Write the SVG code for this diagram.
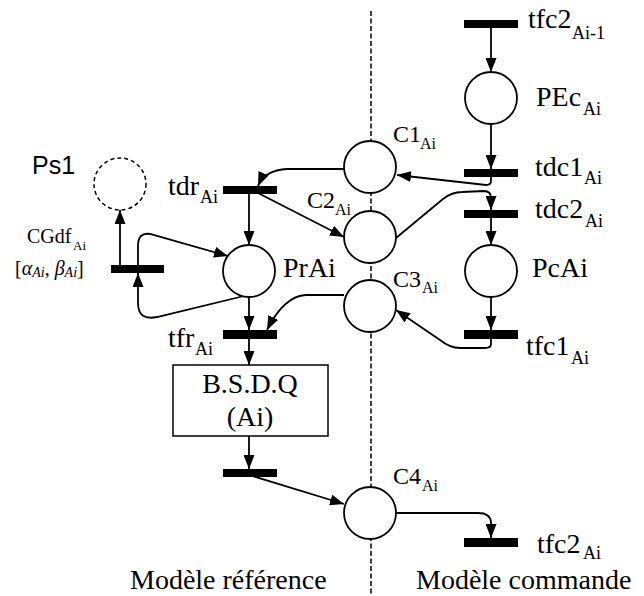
<svg xmlns="http://www.w3.org/2000/svg" width="644" height="596" viewBox="0 0 644 596">
<style>
  .pl { fill: #fff; stroke: #000; stroke-width: 1.8; }
  .tr { fill: #000; }
  .cn { fill: none; stroke: #000; stroke-width: 1.8; }
  .ar { marker-end: url(#ah); }
</style>
<defs>
  <marker id="ah" viewBox="0 0 14 11" refX="14" refY="5.5" markerWidth="14" markerHeight="11" markerUnits="userSpaceOnUse" orient="auto">
    <path d="M0,0 L14,5.5 L0,11 z" fill="#000"/>
  </marker>
</defs>

<rect width="644" height="596" fill="#fff"/>

<line x1="371" y1="11" x2="371" y2="596" stroke="#000" stroke-width="1.5" stroke-dasharray="5,2.5"/>

<g id="connectors">
  <path class="cn ar" d="M491,28 L491,72"/>
  <path class="cn ar" d="M491,124 L491,169"/>
  <path class="cn ar" d="M491,177 L491,181 Q491,185 486,185 L397,175"/>
  <path class="cn ar" d="M396,238 L443,199 Q452,192 462,192 L484,191 Q491,191 491,198 L491,210"/>
  <path class="cn ar" d="M491,218 L491,245"/>
  <path class="cn ar" d="M491,297 L491,330"/>
  <path class="cn ar" d="M491,339 L491,344 Q491,348 485,348 L460,348 Q450,348 440,340 L396,310"/>
  <path class="cn ar" d="M344,295 L306,295 Q284,296 267,330"/>
  <path class="cn ar" d="M344,169 L287,169 Q265,170 258,186"/>
  <path class="cn ar" d="M258,193 L344,237"/>
  <path class="cn ar" d="M249,194 L249,245"/>
  <path class="cn ar" d="M249,297 L249,330"/>
  <path class="cn ar" d="M249,339 L249,365"/>
  <path class="cn ar" d="M249,436 L249,469"/>
  <path class="cn ar" d="M249,475 L344,504"/>
  <path class="cn ar" d="M396,513 L478,513 Q490,513 491,522 L491,538"/>
  <path class="cn ar" d="M244,296 L157,317 Q138,321 138,303 L138,273"/>
  <path class="cn ar" d="M138,265 L138,246 Q138,232 150,234 L228,256"/>
  <path class="cn ar" d="M120,265 L120,210"/>
</g>

<g font-family="Liberation Serif, Times New Roman, serif" fill="#000">
<g id="tfc2_prev">
  <rect class="tr" x="464" y="20" width="54" height="8"/>
  <text font-size="28" x="528" y="28">tfc2<tspan font-size="18" x="572" y="39">Ai-1</tspan></text>
</g>
<g id="PEc">
  <circle class="pl" cx="491" cy="98" r="26"/>
  <text font-size="28" x="536" y="106">PEc<tspan font-size="18" x="583" y="115">Ai</tspan></text>
</g>
<g id="tdc1">
  <rect class="tr" x="464" y="169" width="54" height="8"/>
  <text font-size="28" x="535" y="176">tdc1<tspan font-size="18" x="584" y="184">Ai</tspan></text>
</g>
<g id="tdc2">
  <rect class="tr" x="464" y="210" width="54" height="8"/>
  <text font-size="28" x="535" y="218">tdc2<tspan font-size="18" x="585" y="227">Ai</tspan></text>
</g>
<g id="PcAi">
  <circle class="pl" cx="491" cy="271" r="26"/>
  <text font-size="28" x="532" y="277">PcAi</text>
</g>
<g id="tfc1">
  <rect class="tr" x="464" y="330" width="54" height="9"/>
  <text font-size="28" x="526" y="355">tfc1<tspan font-size="18" x="571" y="364">Ai</tspan></text>
</g>
<g id="tfc2">
  <rect class="tr" x="464" y="538" width="54" height="9"/>
  <text font-size="28" x="537" y="553">tfc2<tspan font-size="18" x="583" y="559">Ai</tspan></text>
</g>

<g id="C1">
  <circle class="pl" cx="370" cy="167" r="26"/>
  <text font-size="24" x="393" y="142">C1<tspan font-size="16" x="420" y="149">Ai</tspan></text>
</g>
<g id="C2">
  <circle class="pl" cx="370" cy="237" r="26"/>
  <text font-size="24" x="307" y="208">C2<tspan font-size="16" x="335" y="215">Ai</tspan></text>
</g>
<g id="C3">
  <circle class="pl" cx="370" cy="306" r="26"/>
  <text font-size="24" x="393" y="287">C3<tspan font-size="16" x="422" y="293">Ai</tspan></text>
</g>
<g id="C4">
  <circle class="pl" cx="370" cy="513" r="26"/>
  <text font-size="24" x="393" y="484">C4<tspan font-size="16" x="422" y="491">Ai</tspan></text>
</g>

<g id="tdr">
  <rect class="tr" x="223" y="186" width="54" height="8"/>
  <text font-size="28" x="168" y="195">tdr<tspan font-size="18" x="200" y="203">Ai</tspan></text>
</g>
<g id="PrAi">
  <circle class="pl" cx="249" cy="271" r="26"/>
  <text font-size="28" x="283" y="277">PrAi</text>
</g>
<g id="tfr">
  <rect class="tr" x="223" y="330" width="54" height="9"/>
  <text font-size="28" x="168" y="347">tfr<tspan font-size="18" x="195" y="355">Ai</tspan></text>
</g>
<g id="BSDQ">
  <rect x="173" y="365" width="155" height="71" fill="#fff" stroke="#000" stroke-width="1.5"/>
  <text font-size="28" x="250" y="393" text-anchor="middle">B.S.D.Q</text>
  <text font-size="28" x="250" y="426" text-anchor="middle">(Ai)</text>
</g>
<g id="tout">
  <rect class="tr" x="223" y="469" width="54" height="8"/>
</g>
<g id="CGdf">
  <rect class="tr" x="111" y="265" width="53" height="8"/>
  <text font-size="20" x="27" y="243">CGdf<tspan font-size="13" x="73" y="250">Ai</tspan></text>
  <text font-size="20" x="15" y="275">[<tspan font-style="italic">α</tspan><tspan font-style="italic" font-size="14" y="277">Ai</tspan><tspan y="275">, </tspan><tspan font-style="italic">β</tspan><tspan font-style="italic" font-size="14" y="277">Ai</tspan><tspan y="275">]</tspan></text>
</g>
<g id="Ps1">
  <circle cx="120" cy="184" r="26" fill="#fff" stroke="#000" stroke-width="1.5" stroke-dasharray="4,3"/>
  <text font-family="Liberation Sans, Arial, sans-serif" font-size="25" x="32" y="174">Ps1</text>
</g>

<text font-size="28" x="130" y="589">Modèle référence</text>
<text font-size="28" x="416" y="589">Modèle commande</text>
</g>
</svg>
